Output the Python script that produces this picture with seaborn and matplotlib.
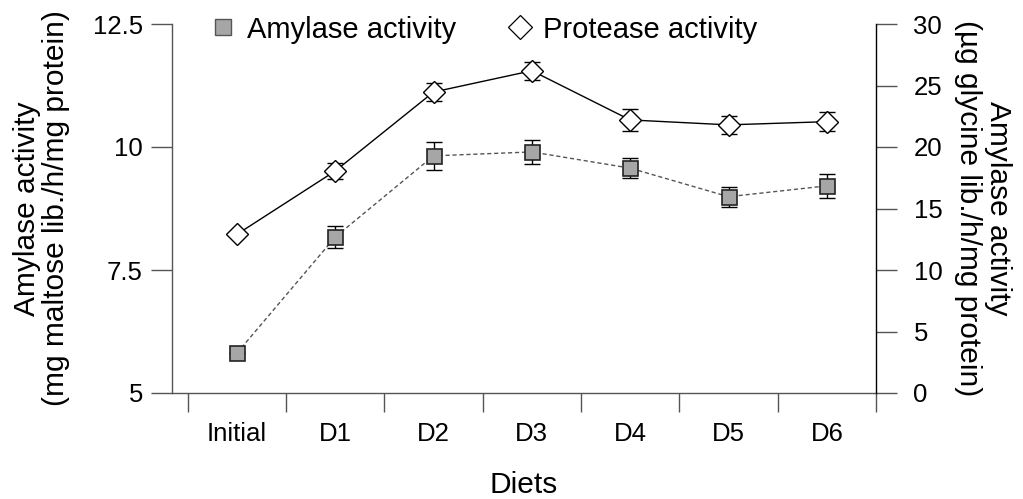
import numpy as np
import pandas as pd
import matplotlib
matplotlib.use("Agg")
import matplotlib.pyplot as plt
import seaborn as sns
from matplotlib.lines import Line2D

# data
diets = ["Initial", "D1", "D2", "D3", "D4", "D5", "D6"]
amylase = [5.81, 8.17, 9.82, 9.90, 9.57, 8.99, 9.21]
amylase_err = [0.0, 0.23, 0.29, 0.24, 0.21, 0.20, 0.24]
protease = [12.9, 18.05, 24.47, 26.2, 22.2, 21.8, 22.06]
protease_err = [0.0, 0.65, 0.72, 0.75, 0.9, 0.75, 0.76]

sns.set_style("ticks")
plt.rcParams['font.family'] = ['Liberation Sans', 'DejaVu Sans']
plt.rcParams['text.color'] = 'black'
plt.rcParams['axes.labelcolor'] = 'black'
tick_fs = 18.5
label_fs = 21.5

df = pd.DataFrame({"x": np.arange(len(diets)), "diet": diets,
                   "amylase": amylase, "protease": protease})

fig = plt.figure(figsize=(10.23, 4.99), dpi=100)
ax = fig.add_axes([172/1023, 1 - 393/499, (876-172)/1023, (393-24)/499])
ax2 = ax.twinx()

# amylase: dashed line + grey squares (left axis)
ax.errorbar(df["x"], df["amylase"], yerr=amylase_err, fmt="none",
            ecolor="black", elinewidth=1.0, capsize=6, capthick=1.0, zorder=2)
sns.lineplot(data=df, x="x", y="amylase", ax=ax, color="#555555",
             linewidth=1.0, linestyle=(0, (3, 2)), marker="s", markersize=10.8,
             markerfacecolor="#a6a6a6", markeredgecolor="#222222",
             markeredgewidth=1.2, zorder=3)

# protease: solid line + white diamonds (right axis)
ax2.errorbar(df["x"], df["protease"], yerr=protease_err, fmt="none",
             ecolor="black", elinewidth=1.0, capsize=6, capthick=1.0, zorder=2)
sns.lineplot(data=df, x="x", y="protease", ax=ax2, color="black",
             linewidth=1.0, marker="D", markersize=10.7,
             markerfacecolor="white", markeredgecolor="black",
             markeredgewidth=1.0, zorder=3)

ax.set_xlim(-0.66, 6.5)
ax.set_ylim(5, 12.5)
ax2.set_ylim(0, 30)
ax.set_yticks([5, 7.5, 10, 12.5])
ax.set_yticklabels(["5", "7.5", "10", "12.5"])
ax2.set_yticks([0, 5, 10, 15, 20, 25, 30])

ax.set_xticks(df["x"])
ax.set_xticklabels(diets)
ax.set_xticks(np.arange(-0.5, 7, 1), minor=True)
ax.tick_params(axis="x", which="major", length=0, pad=21, labelsize=tick_fs, labelcolor="black")
ax.tick_params(axis="x", which="minor", length=14, width=1, color="#555555", direction="out")
ax.tick_params(axis="y", length=15, width=1, color="#555555", pad=6, labelsize=tick_fs,
               labelcolor="black")
ax2.tick_params(axis="y", length=15, width=1, color="#555555", pad=12, labelsize=tick_fs,
                labelcolor="black")

for a in (ax, ax2):
    a.spines["top"].set_visible(False)
    for s in ("left", "right", "bottom"):
        a.spines[s].set_color("#555555")
        a.spines[s].set_linewidth(1.0)
ax.spines["right"].set_visible(False)
ax2.spines["left"].set_visible(False)
ax2.spines["bottom"].set_visible(False)
ax2.spines["right"].set_color("black")

ax.set_xlabel("Diets", fontsize=label_fs, va="center")
ax.xaxis.set_label_coords(0.5, -0.25)
ax.set_ylabel("Amylase activity\n(mg maltose lib./h/mg protein)", fontsize=label_fs,
              linespacing=1.05, va="center")
ax.yaxis.set_label_coords(-0.186, 0.5)
ax2.set_ylabel("Amylase activity\n(µg glycine lib./h/mg protein)", rotation=270,
               fontsize=label_fs, linespacing=1.05, va="center")
ax2.yaxis.set_label_coords(1.152, 0.5)

handles = [Line2D([], [], linestyle="none", marker="s", markersize=11.5,
                  markerfacecolor="#a6a6a6", markeredgecolor="#555555", markeredgewidth=1.0),
           Line2D([], [], linestyle="none", marker="D", markersize=12,
                  markerfacecolor="white", markeredgecolor="black", markeredgewidth=0.9)]
ax2.legend(handles, ["Amylase activity", "Protease activity"], ncol=2,
           loc="center", bbox_to_anchor=(0.44, 0.985), frameon=False,
           handletextpad=0.2, columnspacing=1.6, handlelength=1.2, fontsize=21)
if ax.get_legend() is not None:
    ax.get_legend().remove()

fig.savefig("out.png", dpi=100)
